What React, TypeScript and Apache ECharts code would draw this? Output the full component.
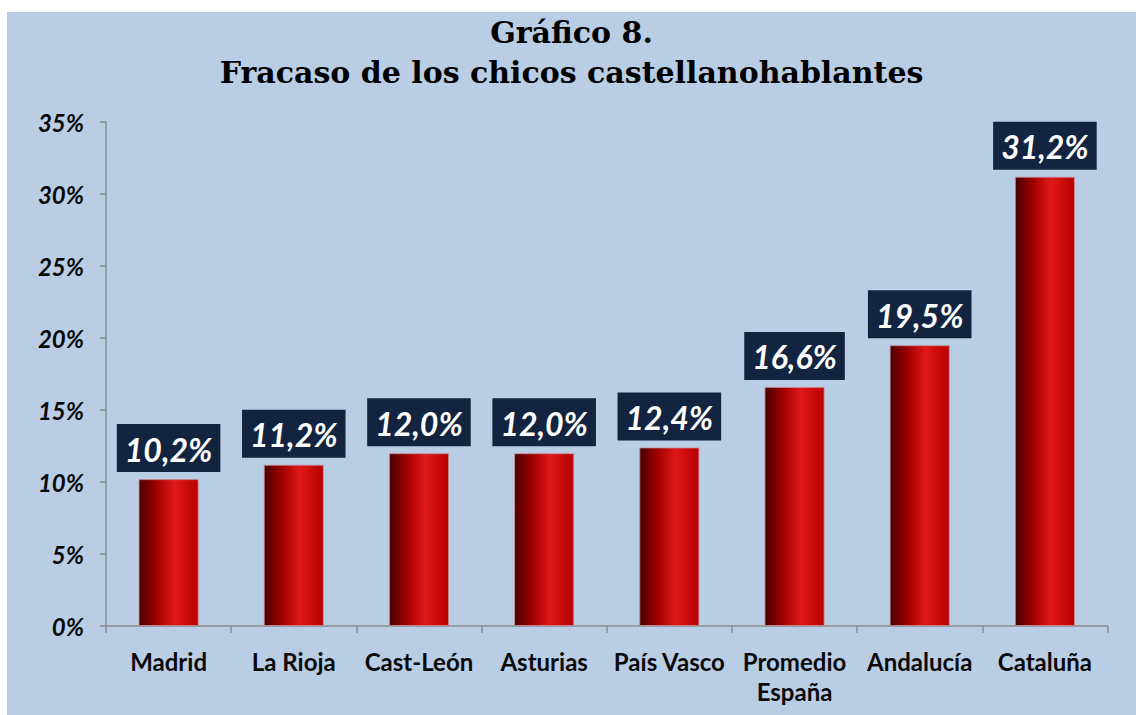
import React, { useEffect, useRef } from "react";
import * as echarts from "echarts";

const categories = ["Madrid", "La Rioja", "Cast-León", "Asturias", "País Vasco", "Promedio\nEspaña", "Andalucía", "Cataluña"];
const values = [10.2, 11.2, 12.0, 12.0, 12.4, 16.6, 19.5, 31.2];
const yTicks = [0, 5, 10, 15, 20, 25, 30, 35];
const titleLines = ["Gráfico 8.", "Fracaso de los chicos castellanohablantes"];

export default function App() {
  const ref = useRef<HTMLDivElement>(null);
  useEffect(() => {
    if (!ref.current) return;
    const chart = echarts.init(ref.current, undefined, { renderer: "svg" });
    const barGradient = new echarts.graphic.LinearGradient(0, 0, 1, 0, [
      { offset: 0, color: "#4a0000" },
      { offset: 0.3, color: "#a00000" },
      { offset: 0.6, color: "#e01818" },
      { offset: 1, color: "#b80000" },
    ]);
    chart.setOption({
      animation: false,
      backgroundColor: "#B9CDE4",
      title: {
        text: titleLines.join("\n"),
        left: "center",
        top: 0,
        padding: 0,
        textStyle: {
          fontFamily: "DejaVu Serif",
          fontWeight: "bold",
          fontSize: 30,
          lineHeight: 40,
          color: "#000",
        },
      },
      grid: { left: 99, right: 28.5, top: 110, bottom: 89 },
      xAxis: {
        type: "category",
        data: categories,
        axisLine: { lineStyle: { color: "#8c8c8c", width: 1.5 } },
        axisTick: { show: true, alignWithLabel: false, length: 7, lineStyle: { color: "#8c8c8c", width: 1.5 } },
        axisLabel: {
          interval: 0,
          margin: 20,
          fontFamily: "Lato",
          fontWeight: "bold",
          fontSize: 24,
          lineHeight: 30,
          color: "#0a0a0a",
        },
      },
      yAxis: {
        type: "value",
        min: yTicks[0],
        max: yTicks[yTicks.length - 1],
        interval: 5,
        splitLine: { show: false },
        axisLine: { show: true, lineStyle: { color: "#8c8c8c", width: 1.5 } },
        axisTick: { show: true, length: 6, lineStyle: { color: "#8c8c8c", width: 1.5 } },
        axisLabel: {
          margin: 22,
          fontFamily: "Lato",
          fontWeight: "bold",
          fontStyle: "italic",
          fontSize: 24,
          color: "#0a0a0a",
          formatter: (v: number) => `${v}%`,
        },
      },
      series: [
        {
          type: "bar",
          data: values,
          barWidth: "48%",
          itemStyle: {
            color: barGradient,
            borderColor: "rgba(200,140,150,0.8)",
            borderWidth: 1,
          },
          label: {
            show: true,
            position: "top",
            distance: 7,
            formatter: (p: any) => `${p.value.toFixed(1).replace(".", ",")}%`,
            fontFamily: "Lato",
            fontWeight: "bold",
            fontStyle: "italic",
            fontSize: 32,
            lineHeight: 34,
            color: "#ffffff",
            backgroundColor: "#12243F",
            padding: [8, 8, 6, 8],
          },
        },
      ],
    });
    return () => chart.dispose();
  }, []);
  return (
    <div style={{ position: "fixed", left: 0, top: 0, width: 1136, height: 715, background: "#fff" }}>
      <div ref={ref} style={{ position: "absolute", left: 7, top: 12, width: 1129, height: 703 }} />
    </div>
  );
}
